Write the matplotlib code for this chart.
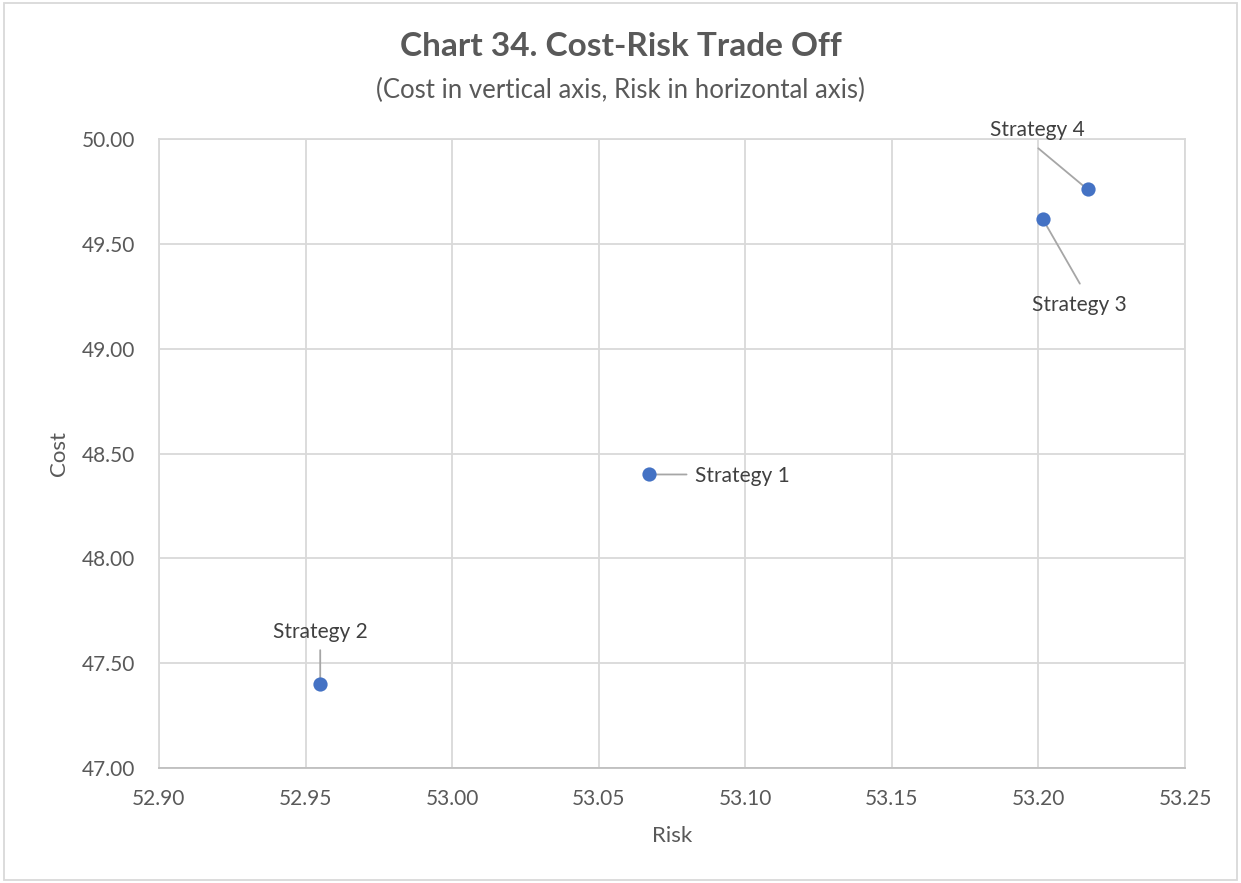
import matplotlib
matplotlib.use("Agg")
import matplotlib.pyplot as plt
from matplotlib.transforms import offset_copy
from matplotlib.patches import Rectangle

# data
strategies = ['Strategy 1', 'Strategy 2', 'Strategy 3', 'Strategy 4']
risk = [53.067, 52.955, 53.2015, 53.217]
cost = [48.40, 47.40, 49.62, 49.76]

# label placement (pixel offsets from the point): text, line start, line end
text_off = [(46, -2), (0, 52), (37, -86), (-51, 59)]
text_ha = ['left', 'center', 'center', 'center']
line_off = [((3, 0), (38, 0)), ((0, 4), (0, 34)), ((2, -4), (37, -65)), ((-2, 1), (-50, 41))]

plt.rcParams['font.family'] = ['Lato', 'DejaVu Sans']
grey_txt = '#595959'
grid_c = '#D9D9D9'

fig = plt.figure(figsize=(12.41, 8.83), dpi=100)
ax = fig.add_axes([0.1281, 0.1302, 0.8268, 0.7124])

ax.scatter(risk, cost, s=105, color='#4472C4', zorder=3, linewidths=0)

for i, name in enumerate(strategies):
    ax.annotate(name, xy=(risk[i], cost[i]), xytext=text_off[i], textcoords='offset pixels',
                ha=text_ha[i], va='center', fontsize=15, color='#404040', zorder=4)
    (sx, sy), (ex, ey) = line_off[i]
    tr = offset_copy(ax.transData, fig=fig, x=sx, y=sy, units='dots')
    ax.annotate('', xy=(risk[i], cost[i]), xycoords=tr, xytext=(ex - sx, ey - sy),
                textcoords='offset pixels',
                arrowprops=dict(arrowstyle='-', color='#A6A6A6', lw=1.3, shrinkA=0, shrinkB=0),
                zorder=2)

ax.set_xlim(52.90, 53.25)
ax.set_ylim(47.0, 50.0)
ax.set_xticks([52.90, 52.95, 53.00, 53.05, 53.10, 53.15, 53.20, 53.25])
ax.set_yticks([47.0, 47.5, 48.0, 48.5, 49.0, 49.5, 50.0])
ax.xaxis.set_major_formatter(matplotlib.ticker.FormatStrFormatter('%.2f'))
ax.yaxis.set_major_formatter(matplotlib.ticker.FormatStrFormatter('%.2f'))
ax.tick_params(length=0, labelsize=15, labelcolor=grey_txt)
ax.tick_params(axis='x', pad=15)
ax.tick_params(axis='y', pad=17)
ax.grid(True, color=grid_c, lw=1.3)
ax.set_axisbelow(True)
for s in ['left', 'right', 'top']:
    ax.spines[s].set_color(grid_c)
    ax.spines[s].set_linewidth(1.3)
ax.spines['bottom'].set_color('#BFBFBF')
ax.spines['bottom'].set_linewidth(1.3)

ax.set_xlabel('Risk', fontsize=16, color=grey_txt, labelpad=12)
ax.set_ylabel('Cost', fontsize=16, color=grey_txt, labelpad=9)

fig.text(0.5, 0.947, 'Chart 34. Cost-Risk Trade Off', ha='center', va='center',
         fontsize=24, fontweight='bold', color=grey_txt)
fig.text(0.5, 0.898, '(Cost in vertical axis, Risk in horizontal axis)', ha='center', va='center',
         fontsize=18.5, color=grey_txt)

fig.patches.append(Rectangle((0.003, 0.003), 0.994, 0.994, transform=fig.transFigure,
                             fill=False, edgecolor=grid_c, lw=1.3))

fig.savefig('out.png', dpi=100, facecolor='white')
